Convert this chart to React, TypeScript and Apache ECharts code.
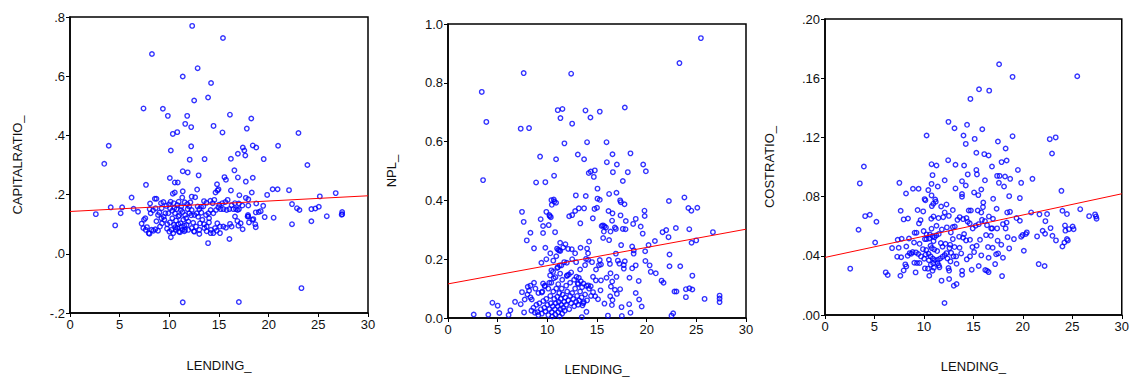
import React, { useEffect, useRef } from "react";
import * as echarts from "echarts";

const xTicks = [0, 5, 10, 15, 20, 25, 30];
const xName = "LENDING_";
const yNames = ["CAPITALRATIO_", "NPL_", "COSTRATIO_"];

// regression line endpoints at LENDING_ = 0 and 30
const fitX = [0, 30];
const fitCap = [0.143, 0.196];
const fitNpl = [0.116, 0.302];
const fitCost = [0.0389, 0.0819];

const capRatio: number[][] = [
  [12.3,0.77],[15.4,0.729],[8.25,0.675],[12.85,0.627],[11.35,0.599],[14.2,0.577],[12.5,0.518],[13.9,0.528],[7.4,0.491],[9.35,0.49],[9.85,0.466],[11.8,0.466],[16.1,0.47],[18.25,0.457],[11.6,0.439],[14.45,0.432],[12.2,0.428],[17.8,0.423],[10.35,0.405],[10.8,0.411],[15.35,0.41],[23.0,0.408],[3.9,0.365],[12.2,0.363],[18.4,0.366],[18.75,0.359],[20.95,0.365],[17.4,0.359],[17.55,0.349],[17.65,0.332],[10.15,0.349],[16.9,0.338],[3.45,0.304],[12.05,0.318],[13.55,0.32],[16.2,0.321],[19.5,0.32],[23.9,0.3],[16.55,0.282],[11.35,0.279],[11.85,0.275],[12.95,0.265],[10.05,0.256],[15.55,0.259],[15.7,0.25],[16.9,0.258],[18.4,0.257],[17.7,0.244],[10.55,0.241],[10.85,0.241],[7.65,0.233],[14.8,0.235],[12.8,0.217],[14.95,0.218],[14.65,0.207],[14.85,0.214],[16.2,0.214],[11.35,0.211],[10.55,0.207],[20.4,0.218],[20.9,0.218],[22.05,0.215],[18.3,0.207],[26.75,0.205],[19.85,0.199],[17.05,0.198],[6.2,0.19],[25.15,0.194],[17.7,0.189],[12.25,0.193],[12.6,0.191],[8.7,0.186],[10.35,0.203],
  [2.6,0.134],[4.1,0.157],[4.55,0.096],[5.25,0.157],[5.1,0.137],[6.4,0.152],[6.85,0.142],[22.35,0.168],[22.35,0.1],[22.85,0.154],[23.1,0.148],[24.3,0.151],[24.7,0.153],[25.05,0.159],[24.3,0.11],[25.85,0.127],[27.4,0.141],[27.4,0.134],[27.35,0.132],[19.45,0.162],[20.5,0.122],[19.6,0.124],[19.0,0.141],[19.2,0.144],[18.7,0.14],[18.65,0.1],[18.7,0.09],[16.05,0.05],[13.9,0.036],[11.35,-0.164],[17.0,-0.163],[23.3,-0.116],[8.0,0.068],[10.15,0.056],
  [8.06,0.17],[8.54,0.186],[9.16,0.171],[9.4,0.175],[9.7,0.162],[9.97,0.167],[10.13,0.176],[10.44,0.171],[10.8,0.165],[10.94,0.176],[11.3,0.19],[11.55,0.174],[11.8,0.168],[12.12,0.174],[12.85,0.16],[13.19,0.159],[13.49,0.178],[13.73,0.172],[14.13,0.179],[14.36,0.171],[14.53,0.182],[15.03,0.166],[15.33,0.171],[15.64,0.175],[15.87,0.182],[16.27,0.164],[16.6,0.171],[17.0,0.17],[17.35,0.163],[17.95,0.163],[18.75,0.17],[17.95,0.184],
  [7.21,0.102],[7.45,0.115],[7.58,0.12],[8.02,0.151],[8.12,0.137],[8.36,0.147],[8.62,0.154],[8.86,0.131],[9.0,0.139],[9.23,0.154],[9.43,0.125],[9.6,0.137],[9.9,0.137],[10.07,0.154],[10.3,0.146],[10.57,0.137],[10.74,0.151],[10.91,0.126],[11.17,0.148],[11.34,0.141],[11.58,0.131],[11.85,0.151],[12.01,0.137],[12.25,0.148],[12.52,0.131],[12.75,0.137],[13.02,0.151],[13.22,0.139],[13.42,0.16],[13.69,0.131],[13.93,0.137],[14.16,0.148],[14.43,0.137],[14.7,0.148],[14.93,0.157],[15.17,0.151],[15.44,0.151],[15.77,0.148],[16.04,0.151],[16.44,0.151],[16.71,0.151],[16.88,0.148],[17.01,0.151],[17.92,0.131],[17.95,0.126],[18.36,0.115],[18.46,0.117],
  [7.38,0.087],[7.62,0.081],[7.75,0.09],[7.92,0.07],[8.22,0.081],[8.39,0.078],[8.59,0.083],[8.86,0.078],[9.06,0.092],[9.26,0.103],[9.5,0.115],[9.77,0.085],[10.07,0.106],[10.23,0.081],[10.47,0.098],[10.67,0.112],[10.8,0.087],[10.97,0.075],[11.14,0.103],[11.24,0.092],[11.41,0.115],[11.58,0.081],[11.74,0.098],[11.91,0.109],[12.25,0.087],[12.52,0.075],[12.69,0.092],[13.02,0.081],[13.09,0.103],[13.32,0.115],[13.52,0.087],[13.76,0.092],[13.99,0.106],[14.19,0.081],[14.43,0.07],[14.6,0.087],[14.83,0.103],[15.1,0.092],[15.44,0.092],[15.7,0.088],[16.11,0.101],[16.27,0.092],[16.61,0.126],[16.85,0.111],[16.95,0.095],[17.18,0.103],[17.38,0.083],[17.88,0.126],[18.02,0.106],
  [10.4,0.07],[10.64,0.081],[11.07,0.073],[11.31,0.081],[11.51,0.076],[11.91,0.081],[12.48,0.076],[13.02,0.067],[13.76,0.076],[14.16,0.07],[14.77,0.078],[15.1,0.07],
  [10.3,0.12],[10.9,0.1],[11.0,0.13],[11.7,0.12],[12.4,0.105],[9.8,0.1],[10.6,0.09],[11.2,0.16],[12.0,0.16],[12.9,0.125],[13.5,0.1],[14.0,0.12],[9.2,0.12],[8.7,0.11],[10.0,0.075],[11.5,0.095],[12.2,0.13],[10.5,0.155]
];

const npl: number[][] = [
  [25.46,0.952],[23.3,0.867],[7.62,0.833],[12.4,0.831],[3.4,0.769],[3.86,0.667],[3.53,0.469],[7.32,0.644],[8.16,0.646],[11.05,0.707],[11.52,0.711],[11.32,0.68],[13.84,0.706],[14.34,0.682],[15.28,0.702],[17.8,0.716],[12.5,0.661],[11.72,0.594],[14.0,0.598],[15.96,0.598],[9.27,0.549],[13.07,0.556],[16.56,0.557],[18.37,0.56],[10.88,0.54],[13.7,0.54],[15.99,0.53],[17.0,0.522],[19.65,0.522],[14.17,0.493],[14.37,0.498],[14.78,0.502],[16.6,0.496],[18.1,0.496],[19.92,0.499],[14.68,0.48],[10.68,0.484],[8.87,0.461],[9.8,0.462],[17.6,0.466],[15.05,0.44],[12.87,0.417],[13.87,0.415],[16.96,0.426],[16.22,0.422],[10.41,0.401],[10.65,0.403],[10.7,0.396],[10.88,0.392],[10.45,0.385],[15.05,0.406],[15.28,0.402],[17.33,0.4],[17.4,0.394],[17.77,0.387],[22.24,0.398],[23.8,0.41],[24.2,0.374],[24.5,0.365],[25.1,0.375],[7.45,0.361],[9.9,0.361],[10.2,0.35],[10.25,0.346],[10.35,0.343],[12.2,0.346],[12.5,0.35],[12.8,0.364],[13.17,0.373],[13.7,0.373],[14.75,0.371],[15.0,0.375],[14.58,0.339],[16.16,0.364],[16.56,0.356],[17.37,0.349],[16.52,0.331],[17.9,0.33],[18.9,0.337],[19.78,0.365],[19.8,0.347],[7.62,0.327],[9.33,0.336],[13.32,0.322],[15.47,0.313],[15.6,0.315],[15.75,0.312],[15.9,0.308],[9.57,0.313],[10.14,0.316],[16.8,0.308],[16.9,0.303],[17.6,0.303],[17.87,0.302],[18.64,0.32],[19.4,0.311],[19.6,0.287],[21.97,0.299],[21.6,0.292],[22.94,0.306],[24.29,0.302],[26.67,0.292],[8.3,0.29],[9.57,0.289],[10.78,0.292],[15.69,0.294],[16.36,0.294],[22.2,0.275],[7.93,0.264],[11.29,0.256],[11.82,0.251],[14.2,0.26],[15.62,0.272],[16.22,0.265],[17.43,0.248],[18.54,0.243],[20.83,0.262],[24.52,0.256],[24.99,0.264],[8.66,0.237],[9.8,0.239],[13.34,0.239],[12.46,0.234],[10.98,0.236],[11.1,0.232],[11.3,0.228],[14.0,0.236],[20.19,0.248],[18.7,0.23],[18.69,0.219],[16.9,0.219],[22.3,0.216],[19.85,0.227],
  [9.4,0.188],[11.96,0.188],[13.9,0.201],[14.1,0.198],[15.28,0.197],[15.4,0.182],[16.2,0.198],[16.3,0.184],[17.1,0.195],[17.25,0.185],[17.8,0.193],[17.7,0.18],[17.7,0.168],[19.87,0.194],[20.3,0.179],[18.9,0.179],[18.54,0.169],[22.3,0.176],[23.38,0.176],[20.41,0.157],[20.92,0.152],[21.5,0.127],[21.7,0.12],[24.6,0.144],[16.36,0.152],[15.96,0.137],[16.96,0.14],[18.27,0.137],[19.2,0.126],[14.6,0.14],[15.4,0.128],[16.53,0.124],[14.88,0.128],[15.35,0.094],[16.4,0.107],[16.8,0.096],[17.0,0.082],[17.33,0.098],[16.33,0.074],[16.56,0.061],[16.5,0.044],[17.47,0.037],[18.24,0.047],[18.9,0.085],[19.24,0.063],[19.5,0.039],[18.37,0.018],[17.5,0.007],[16.1,0.008],[15.75,0.049],[22.8,0.09],[23.0,0.09],[23.95,0.098],[24.3,0.101],[24.6,0.097],[23.95,0.071],[25.83,0.065],[27.34,0.076],[27.34,0.066],[27.34,0.054],[22.67,0.016],[22.5,0.008],
  [2.59,0.012],[4.06,0.011],[4.47,0.052],[5.0,0.042],[5.17,0.017],[6.1,0.01],[6.28,0.026],[6.75,0.055],[7.32,0.047],[7.45,0.088],[7.66,0.019],[7.72,0.063],[8.03,0.106],[8.16,0.093],[8.3,0.11],[8.43,0.063],[8.66,0.12],[9.44,0.087],[9.57,0.117],[9.74,0.108],[10.2,0.12],[10.28,0.145],[10.41,0.162],[10.58,0.157],[10.82,0.139],[11.05,0.173],[11.25,0.179],[11.42,0.179],[11.29,0.151],[11.96,0.143],[12.16,0.148],[12.93,0.14],[13.17,0.137],[13.37,0.125],[13.07,0.118],[13.64,0.117],[13.94,0.109],[14.1,0.111],[14.37,0.108],[14.6,0.088],[14.82,0.074],[15.1,0.064],[13.67,0.054],[13.54,0.043],[13.47,0.003],[13.94,0.021],
  [8.4,0.025],[8.6,0.035],[8.75,0.018],[8.9,0.045],[9.0,0.02],[9.1,0.01],[9.2,0.05],[9.35,0.03],[9.45,0.015],[9.6,0.058],[9.7,0.035],[9.8,0.022],[9.9,0.065],[10.0,0.045],[10.1,0.01],[10.2,0.03],[10.3,0.075],[10.35,0.05],[10.45,0.02],[10.5,0.005],[10.55,0.04],[10.6,0.09],[10.7,0.065],[10.75,0.03],[10.8,0.012],[10.85,0.05],[10.9,0.1],[11.0,0.072],[11.05,0.04],[11.1,0.02],[11.15,0.055],[11.2,0.085],[11.25,0.005],[11.3,0.03],[11.35,0.065],[11.4,0.045],[11.45,0.1],[11.5,0.015],[11.55,0.08],[11.6,0.035],[11.7,0.055],[11.75,0.025],[11.8,0.07],[11.9,0.045],[12.0,0.09],[12.1,0.06],[12.2,0.03],[12.3,0.075],[12.4,0.05],[12.5,0.085],[12.6,0.065],[12.7,0.04],[12.8,0.1],[12.9,0.055],[13.0,0.075],[13.1,0.045],[13.2,0.06],[13.3,0.09],[13.45,0.07],[13.6,0.05],[13.8,0.08],[14.0,0.06],[14.2,0.1],[14.4,0.075],
  [9.5,0.09],[9.75,0.11],[10.1,0.1],[10.4,0.12],[10.65,0.135],[11.1,0.115],[11.5,0.13],[11.9,0.11],[12.3,0.12],[12.7,0.13],[13.1,0.115],[13.5,0.105],[8.0,0.08],[8.3,0.07],[8.8,0.1],[9.1,0.085],[12.0,0.145],[12.4,0.155],[11.0,0.17],[11.7,0.19],[12.5,0.2],[12.9,0.19],[13.3,0.165],[13.8,0.18],[10.9,0.21],[11.2,0.23],[11.6,0.24],[12.1,0.235],[12.8,0.22],[14.1,0.22],[14.5,0.19],[14.9,0.165],[15.2,0.18],[10.3,0.22],[10.6,0.195],[9.9,0.2]
];

const costRatio: number[][] = [
  [17.6,0.1694],[18.96,0.1609],[25.5,0.1613],[15.57,0.1525],[16.6,0.1516],[14.7,0.146],[12.48,0.1305],[14.36,0.1285],[13.09,0.1262],[15.9,0.1255],[10.27,0.1213],[14.0,0.1213],[18.96,0.1208],[15.13,0.119],[22.72,0.1188],[23.32,0.12],[17.48,0.1172],[14.23,0.1156],[18.26,0.1125],[15.3,0.1096],[16.1,0.1087],[16.54,0.1078],[22.95,0.1091],[12.45,0.1046],[13.19,0.1015],[10.77,0.1019],[11.27,0.101],[14.06,0.101],[16.88,0.1003],[3.93,0.1003],[17.85,0.1033],[18.36,0.1044],[15.3,0.098],[15.36,0.095],[14.43,0.095],[10.87,0.0945],[17.4,0.094],[17.65,0.094],[18.2,0.0936],[19.5,0.098],[18.72,0.092],[20.97,0.092],[16.17,0.091],[12.1,0.091],[13.85,0.0904],[17.58,0.0893],[19.83,0.0893],[7.52,0.0893],[3.52,0.0889],[10.77,0.0886],[11.4,0.0868],[14.23,0.0875],[18.1,0.0868],[13.19,0.0855],[8.89,0.0853],[9.46,0.0853],[10.44,0.0844],[15.8,0.0848],[15.07,0.0828],[15.5,0.081],[8.19,0.0821],[23.9,0.0839],[10.77,0.0808],[13.85,0.0817],[13.85,0.0799],[10.07,0.0783],[10.15,0.0775],[11.14,0.078],[11.2,0.0765],[17.0,0.0785],[18.62,0.0803],[19.7,0.079],[16.0,0.076],
  [10.8,0.0736],[10.95,0.0752],[11.74,0.0733],[12.28,0.0747],[15.97,0.0729],[17.35,0.0718],[7.65,0.0704],[9.36,0.0709],[9.93,0.07],[12.92,0.0709],[14.53,0.0706],[14.75,0.0706],[15.44,0.0706],[15.8,0.0693],[18.7,0.0697],[18.42,0.0693],[20.84,0.0693],[24.0,0.0704],[22.45,0.0682],[24.46,0.0682],[25.8,0.0715],[27.3,0.068],[27.4,0.0666],[27.45,0.065],[26.7,0.0668],[4.06,0.0668],[4.53,0.0677],[5.2,0.063],[3.39,0.0576],[5.07,0.049],[2.55,0.0313],[6.14,0.0288],[6.34,0.027],[7.62,0.0265],[7.95,0.0646],[8.39,0.0652],[6.78,0.0452],[7.35,0.0508],[7.75,0.0515],[7.45,0.0454],[7.3,0.0394],[7.7,0.039],[8.49,0.0517],[8.22,0.0463],[9.0,0.049],[9.06,0.0556],[9.25,0.0556],[9.5,0.0619],[9.66,0.0641],[9.97,0.0567],[10.1,0.0513],[10.27,0.0513],[9.56,0.0481],[8.72,0.0414],[8.36,0.04],[8.12,0.0342],[8.22,0.0328],[7.95,0.0301],[9.16,0.0288],[9.03,0.0353],[9.56,0.0351],[9.9,0.0445],[10.17,0.0409],[10.1,0.0315],[10.4,0.0313],[10.54,0.0265],[10.87,0.0299],[10.94,0.035],
  [11.78,0.0232],[12.55,0.0243],[13.02,0.0198],[13.3,0.0209],[12.08,0.0081],[12.48,0.0317],[12.55,0.03],[13.3,0.0346],[13.86,0.0299],[13.86,0.0272],[14.83,0.0306],[15.54,0.0331],[16.2,0.0304],[16.38,0.0299],[16.54,0.029],[17.2,0.0344],[17.9,0.0263],[17.99,0.0387],[17.3,0.041],[17.5,0.0416],[16.54,0.0387],[15.8,0.0403],[14.33,0.0376],[14.66,0.0396],[15.07,0.0425],[13.77,0.0416],[12.75,0.042],[21.6,0.0344],[22.2,0.0331],[20.1,0.0434],[18.62,0.045],[17.82,0.0475],[18.46,0.0526],[19.1,0.0513],[19.83,0.0529],[19.97,0.054],[20.3,0.0547],[20.4,0.0558],[21.44,0.0531],[22.0,0.0569],[22.25,0.0549],[22.8,0.0587],[22.99,0.0535],[23.35,0.0504],[24.0,0.0463],[24.2,0.049],[24.46,0.0513],[24.55,0.0504],[24.3,0.057],[24.26,0.0605],[24.66,0.058],[25.03,0.0598],[25.13,0.058],[22.28,0.0634],[21.68,0.068],[19.7,0.0637],[19.36,0.0655],[18.36,0.0625],[18.26,0.0585],[17.4,0.0585],[16.8,0.0585],[16.9,0.0585],[17.99,0.0614],[16.38,0.0607],[16.17,0.0634],[16.57,0.0666],[16.98,0.065],[17.45,0.0502],[16.28,0.054],[16.77,0.0535],[16.95,0.0454],[16.48,0.0459],[15.67,0.0508],[15.33,0.0468],[14.9,0.0459],[14.66,0.0508],[14.26,0.0504],[14.06,0.0547],[13.96,0.0522],[13.56,0.0529],[13.6,0.0454],[13.09,0.0459],[12.92,0.0513],[12.58,0.0452],[12.65,0.0475],[12.18,0.0481],[11.88,0.0461],[11.71,0.0486],
  [12.72,0.0558],[12.92,0.0594],[13.12,0.0598],[13.39,0.0643],[13.62,0.0661],[13.96,0.0648],[14.3,0.0655],[14.43,0.063],[14.63,0.0619],[14.93,0.0585],[15.23,0.0603],[15.54,0.0614],[15.87,0.0643],[12.32,0.0592],[12.52,0.067],[12.1,0.0693],[11.95,0.0661],[11.47,0.0655],[10.97,0.0666],[10.74,0.065],[11.27,0.0603],[10.77,0.0583],[11.81,0.0578],[11.5,0.0547],[11.25,0.0538],[10.9,0.0533],[11.07,0.0526],[10.6,0.0544],[10.27,0.0544],[10.54,0.0517],[10.97,0.0499],[10.67,0.0468],[10.8,0.0452],[11.04,0.0443],[11.34,0.0432],[10.24,0.0439],[10.47,0.0414],[10.67,0.0396],[10.9,0.0382],[11.1,0.0371],[11.4,0.0373],[11.64,0.0382],[11.88,0.0394],[12.1,0.0405],[12.28,0.0418],[11.37,0.0351],[11.5,0.0335],[11.57,0.0322],[10.7,0.034],[11.0,0.032],[10.5,0.037],[10.03,0.038],[9.7,0.0396],[9.43,0.0412],[9.19,0.0423],[8.86,0.0425],[8.56,0.0418],[9.3,0.0351],[12.68,0.0362],[12.38,0.0382],[12.99,0.0396],[13.26,0.0396]
];

const fontFamily = "'Liberation Sans', Arial, sans-serif";

function stripZero(v: number, d: number) {
  return v.toFixed(d).replace(/^(-?)0\./, "$1.");
}

export default function App() {
  const ref = useRef<HTMLDivElement>(null);
  useEffect(() => {
    document.body.style.margin = "0";
    const chart = echarts.init(ref.current!, null, { renderer: "svg" });
    const grids = [
      { left: 70, top: 17, width: 298, height: 296 },
      { left: 448, top: 24, width: 298, height: 297 },
      { left: 825, top: 19, width: 299, height: 296 },
    ];
    const yCfg = [
      { min: -0.2, max: 0.8, interval: 0.2, fmt: (v: number) => stripZero(v, 1), gap: 46, xGap: 46 },
      { min: 0, max: 1.0, interval: 0.2, fmt: (v: number) => v.toFixed(1), gap: 50, xGap: 45 },
      { min: 0, max: 0.2, interval: 0.04, fmt: (v: number) => stripZero(v, 2), gap: 49, xGap: 45 },
    ];
    const textStyle = { color: "#111", fontSize: 13, fontFamily };
    const option: any = {
      animation: false,
      backgroundColor: "#fff",
      grid: grids.map((g) => ({ ...g, show: true, borderColor: "#000", borderWidth: 1.5, backgroundColor: "transparent" })),
      xAxis: grids.map((_, i) => ({
        type: "value",
        gridIndex: i,
        min: xTicks[0],
        max: xTicks[xTicks.length - 1],
        interval: xTicks[1] - xTicks[0],
        name: xName,
        nameLocation: "middle",
        nameGap: yCfg[i].xGap,
        nameTextStyle: textStyle,
        axisLine: { show: true, onZero: false, lineStyle: { color: "#000", width: 1.5 } },
        axisTick: { show: true, length: 4, lineStyle: { color: "#000", width: 1 } },
        axisLabel: { ...textStyle, margin: 5 },
        splitLine: { show: false },
      })),
      yAxis: yCfg.map((c, i) => ({
        type: "value",
        gridIndex: i,
        min: c.min,
        max: c.max,
        interval: c.interval,
        name: yNames[i],
        nameLocation: "middle",
        nameGap: c.gap,
        nameTextStyle: textStyle,
        axisLine: { show: true, onZero: false, lineStyle: { color: "#000", width: 1.5 } },
        axisTick: { show: true, length: 4, lineStyle: { color: "#000", width: 1 } },
        axisLabel: { ...textStyle, margin: 5, formatter: c.fmt },
        splitLine: { show: false },
      })),
      series: [
        ...[capRatio, npl, costRatio].map((d, i) => ({
          type: "scatter",
          xAxisIndex: i,
          yAxisIndex: i,
          data: d,
          symbol: "circle",
          symbolSize: 4.5,
          itemStyle: { color: "rgba(0,0,0,0)", borderColor: "#0000ff", borderWidth: 1.4 },
          z: 2,
        })),
        ...[fitCap, fitNpl, fitCost].map((f, i) => ({
          type: "line",
          xAxisIndex: i,
          yAxisIndex: i,
          data: fitX.map((x, k) => [x, f[k]]),
          showSymbol: false,
          symbol: "none",
          lineStyle: { color: "#ff0000", width: 1 },
          z: 3,
        })),
      ],
    };
    chart.setOption(option);
    return () => chart.dispose();
  }, []);
  return <div ref={ref} style={{ width: 1132, height: 381 }} />;
}
